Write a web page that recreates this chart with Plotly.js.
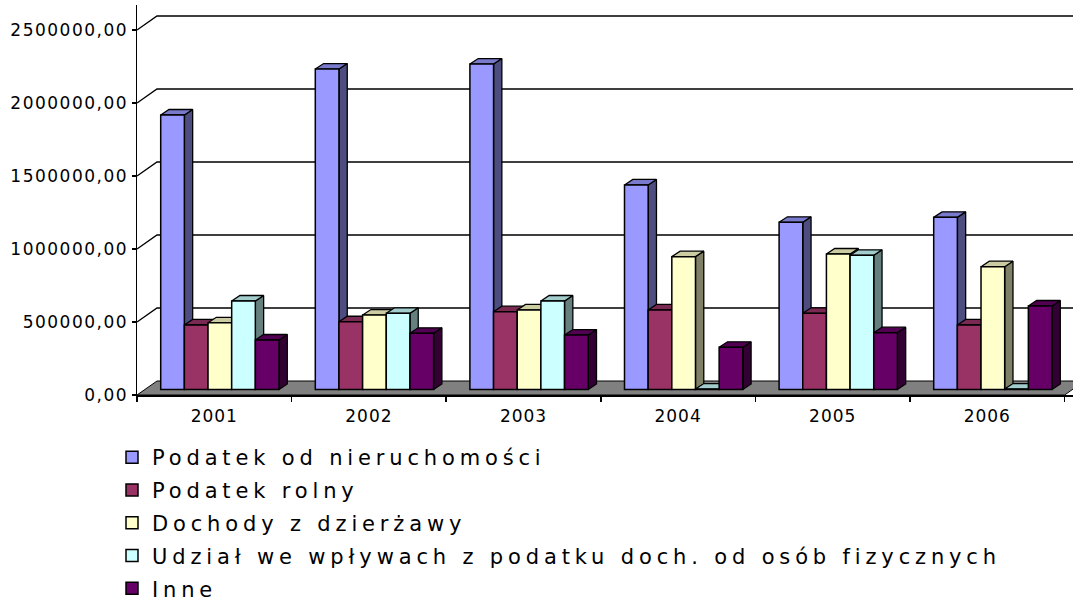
<!DOCTYPE html>
<html>
<head>
<meta charset="utf-8">
<script src="https://cdn.plot.ly/plotly-3.0.1.min.js"></script>
<style>
  html, body { margin: 0; padding: 0; background: #fff; }
  #chart { width: 1073px; height: 603px; }
  .ytick text { letter-spacing: 1.5px; }
  .xtick text { letter-spacing: 1px; }
  .legendtext { letter-spacing: 4.85px; }
</style>
</head>
<body>
<div id="chart"></div>
<script>
// ---- data ----
const categories = ['2001', '2002', '2003', '2004', '2005', '2006'];
const seriesNames = [
  'Podatek od nieruchomości',
  'Podatek rolny',
  'Dochody z dzierżawy',
  'Udział we wpływach z podatku doch. od osób fizycznych',
  'Inne'
];
const podatekNieruchomosci = [1880000, 2195000, 2229000, 1401000, 1145000, 1179000];
const podatekRolny         = [442000, 464000, 533000, 545000, 522000, 442000];
const dochodyDzierzawy     = [457000, 510000, 545000, 910000, 928000, 841000];
const udzialPIT            = [606000, 522000, 606000, 3000, 919000, 3000];
const inne                 = [339000, 385000, 373000, 289000, 389000, 572000];
const yTickVals = [0, 500000, 1000000, 1500000, 2000000, 2500000];

// ---- styling ----
const frontColors = ['#9999FF', '#993366', '#FFFFCC', '#CCFFFF', '#660066'];
const topColors   = ['#7A7ACC', '#7A2952', '#CCCCA3', '#A3CCCC', '#520052'];
const sideColors  = ['#4D4D80', '#4D1A33', '#808066', '#668080', '#330033'];

// geometry (pixels -> axis units)
const PLOT_L = 137, PLOT_R = 1073, PLOT_T = 5, PLOT_B = 395;
const CAT_PX = 154.6;          // px per category
const VAL_PX = 146 / 1e6;      // px per value unit
const ux = p => p / CAT_PX;
const uy = p => p / VAL_PX;
const xRange = [-0.5, -0.5 + ux(PLOT_R - PLOT_L)];
const yRange = [0, uy(PLOT_B - PLOT_T)];

const wallDx = ux(20), wallDy = uy(14);
const barBase = uy(5.5);
const groupStart = ux(23.7);
const barW = ux(23.66);
const depthDx = ux(8.3), depthDy = uy(5.5);

const allSeries = [podatekNieruchomosci, podatekRolny, dochodyDzierzawy, udzialPIT, inne];
const idx = categories.map((c, i) => i);

const traces = [];

// back wall grid lines + left wall diagonals
const gx = [], gy = [];
yTickVals.forEach(v => {
  if (v === 0) return;
  gx.push(-0.5, -0.5 + wallDx, xRange[1] + 1, null);
  gy.push(v, v + wallDy, v + wallDy, null);
});
traces.push({type: 'scatter', mode: 'lines', x: gx, y: gy, xaxis: 'x', yaxis: 'y',
  line: {color: '#000', width: 1.4}, hoverinfo: 'skip', showlegend: false});

// floor
const nCat = categories.length;
traces.push({type: 'scatter', mode: 'lines', fill: 'toself', fillcolor: '#808080',
  x: [-0.5, nCat - 0.5, nCat - 0.5 + wallDx, -0.5 + wallDx, -0.5],
  y: [0, 0, wallDy, wallDy, 0],
  line: {color: '#000', width: 1}, xaxis: 'x', yaxis: 'y', hoverinfo: 'skip', showlegend: false});

// side and top faces of bars
allSeries.forEach((vals, s) => {
  const off = -0.5 + groupStart + s * barW;
  const sx = [], sy = [], tx = [], ty = [];
  vals.forEach((v, i) => {
    const L = i + off, R = L + barW;
    const b = barBase, t = barBase + v;
    sx.push(R, R + depthDx, R + depthDx, R, R, null);
    sy.push(b, b + depthDy, t + depthDy, t, b, null);
    tx.push(L, R, R + depthDx, L + depthDx, L, null);
    ty.push(t, t, t + depthDy, t + depthDy, t, null);
  });
  traces.push({type: 'scatter', mode: 'lines', fill: 'toself', fillcolor: sideColors[s],
    x: sx, y: sy, line: {color: '#000', width: 1.3}, xaxis: 'x', yaxis: 'y',
    hoverinfo: 'skip', showlegend: false});
  traces.push({type: 'scatter', mode: 'lines', fill: 'toself', fillcolor: topColors[s],
    x: tx, y: ty, line: {color: '#000', width: 1.3}, xaxis: 'x', yaxis: 'y',
    hoverinfo: 'skip', showlegend: false});
});

// front faces (bars)
allSeries.forEach((vals, s) => {
  traces.push({type: 'bar', name: seriesNames[s], x: idx, y: vals, base: barBase,
    offset: -0.5 + groupStart + s * barW, width: barW,
    xaxis: 'x2', yaxis: 'y2', legendgroup: 'g' + s,
    marker: {color: frontColors[s], line: {color: '#000', width: 1.5}}});
});

const tickFont = {family: 'DejaVu Sans', size: 17, color: '#000'};
const boundaries = [];
for (let i = 0; i <= nCat; i++) boundaries.push(i - 0.5);

const layout = {
  width: 1073, height: 603, autosize: false,
  margin: {l: PLOT_L, r: 1073 - PLOT_R, t: PLOT_T, b: 603 - PLOT_B, autoexpand: false},
  paper_bgcolor: '#fff', plot_bgcolor: 'rgba(0,0,0,0)',
  separators: ', ',
  showlegend: true,
  xaxis: {type: 'linear', range: xRange, fixedrange: true, showgrid: false, zeroline: false,
    tickmode: 'array', tickvals: idx, ticktext: categories, ticks: '', showline: false,
    ticklabelstandoff: 9, tickfont: tickFont, automargin: false},
  xaxis2: {type: 'linear', range: xRange, overlaying: 'x', anchor: 'y2', side: 'bottom',
    showgrid: false, zeroline: false, tickmode: 'array', tickvals: boundaries,
    showticklabels: false, ticks: 'outside', ticklen: 5, tickwidth: 1.5, tickcolor: '#000',
    showline: true, linecolor: '#000', linewidth: 1.5, automargin: false},
  yaxis: {type: 'linear', range: yRange, fixedrange: true, showgrid: false, zeroline: false,
    tickmode: 'array', tickvals: yTickVals, tickformat: '.2f', ticks: 'outside', ticklen: 4,
    tickwidth: 1.5, tickcolor: '#000', showline: true, linecolor: '#000', linewidth: 1.5,
    tickfont: tickFont, automargin: false},
  yaxis2: {type: 'linear', range: yRange, overlaying: 'y', anchor: 'x2', visible: false},
  legend: {x: (112 - PLOT_L) / (PLOT_R - PLOT_L), y: (PLOT_B - 437) / (PLOT_B - PLOT_T),
    xanchor: 'left', yanchor: 'top', orientation: 'v', tracegroupgap: 2.5,
    bgcolor: 'rgba(0,0,0,0)', font: {family: 'DejaVu Sans', size: 21, color: '#000'}}
};

Plotly.newPlot('chart', traces, layout, {staticPlot: true, displayModeBar: false});
</script>
</body>
</html>
